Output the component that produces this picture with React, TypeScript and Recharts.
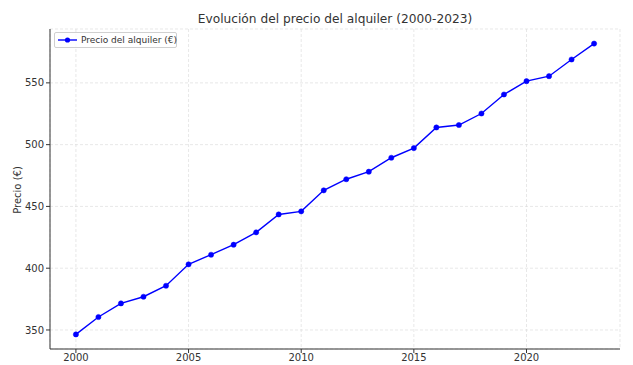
import React from 'react';
import { LineChart, Line, XAxis, YAxis, CartesianGrid } from 'recharts';

const years = [2000, 2001, 2002, 2003, 2004, 2005, 2006, 2007, 2008, 2009, 2010, 2011, 2012, 2013, 2014, 2015, 2016, 2017, 2018, 2019, 2020, 2021, 2022, 2023];
const prices = [346.4, 360.5, 371.5, 376.9, 385.8, 403.1, 410.9, 419.0, 429.0, 443.5, 446.0, 463.0, 472.0, 478.1, 489.4, 497.2, 513.9, 515.9, 525.2, 540.6, 551.4, 555.4, 568.9, 581.8];
const xTicks = [2000, 2005, 2010, 2015, 2020];
const yTicks = [350, 400, 450, 500, 550];
const title = 'Evolución del precio del alquiler (2000-2023)';
const yLabel = 'Precio (€)';
const seriesName = 'Precio del alquiler (€)';

const data = years.map((y, i) => ({ year: y, price: prices[i] }));

const FONT = '"DejaVu Sans", sans-serif';

export default function App() {
  return (
    <div style={{ position: 'absolute', left: 0, top: 0, width: 633, height: 365, fontFamily: FONT, background: '#fff' }}>
      <LineChart width={633} height={365} data={data} margin={{ top: 29, right: 13, left: 0, bottom: 0 }}>
        <CartesianGrid stroke="#d9d9d9" strokeDasharray="3 2" strokeWidth={0.6} />
        <XAxis
          dataKey="year"
          type="number"
          domain={[1998.85, 2024.15]}
          ticks={xTicks}
          allowDataOverflow
          height={16}
          tickSize={4}
          tickMargin={1}
          stroke="#333"
          tick={{ fill: '#333', fontSize: 10, fontFamily: FONT }}
        />
        <YAxis
          type="number"
          domain={[334.6, 593.6]}
          ticks={yTicks}
          allowDataOverflow
          width={50}
          tickSize={4}
          tickMargin={2}
          stroke="#333"
          tick={{ fill: '#333', fontSize: 10, fontFamily: FONT }}
        />
        <Line
          dataKey="price"
          stroke="#0000ff"
          strokeWidth={1.4}
          dot={{ r: 2.6, fill: '#0000ff', stroke: '#0000ff', strokeWidth: 0.5 }}
          activeDot={false}
          isAnimationActive={false}
        />
      </LineChart>
      <div style={{ position: 'absolute', left: 50, width: 570, top: 12, textAlign: 'center', fontSize: 12.2, color: '#333', whiteSpace: 'nowrap' }}>
        {title}
      </div>
      <div style={{ position: 'absolute', left: 17, top: 190, transform: 'translate(-50%, -50%) rotate(-90deg)', fontSize: 10, color: '#333', whiteSpace: 'nowrap' }}>
        {yLabel}
      </div>
      <div style={{ position: 'absolute', left: 54, top: 32, width: 123, height: 16, border: '1px solid #d0d0d0', borderRadius: 2, background: 'rgba(255,255,255,0.8)', boxSizing: 'border-box', display: 'flex', alignItems: 'center' }}>
        <svg width={26} height={14} style={{ flex: 'none' }}>
          <line x1={3} y1={7} x2={22} y2={7} stroke="#0000ff" strokeWidth={1.4} />
          <circle cx={12.5} cy={7} r={2.6} fill="#0000ff" />
        </svg>
        <span style={{ fontSize: 9, color: '#333', whiteSpace: 'nowrap' }}>{seriesName}</span>
      </div>
    </div>
  );
}
